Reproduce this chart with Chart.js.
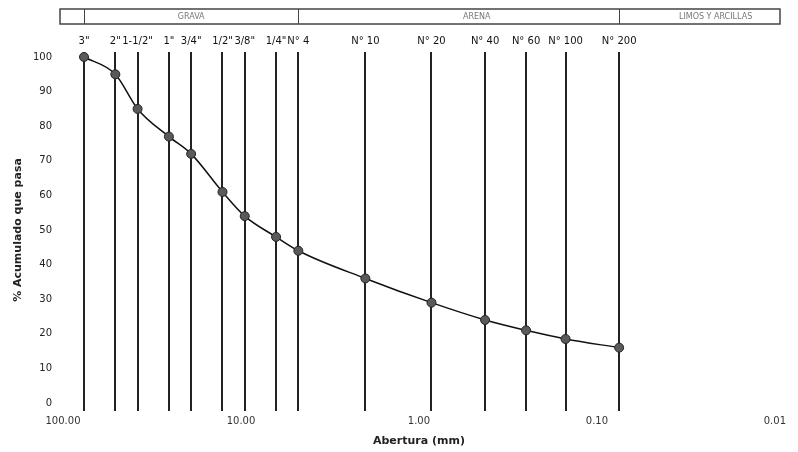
<!DOCTYPE html>
<html>
<head>
<meta charset="utf-8">
<script src="https://cdn.jsdelivr.net/npm/chart.js@4.4.0/dist/chart.umd.min.js"></script>
<style>
  html, body { margin: 0; padding: 0; background: #fff; }
  #wrap { width: 798px; height: 452px; }
</style>
</head>
<body>
<div id="wrap"><canvas id="granulometria"></canvas></div>
<script>
// Tamices (mm) y su designación
const sieveLabels = ['3"', '2"', '1-1/2"', '1"', '3/4"', '1/2"', '3/8"', '1/4"', 'N° 4', 'N° 10', 'N° 20', 'N° 40', 'N° 60', 'N° 100', 'N° 200'];
const sieveSizes = [76.2, 50.8, 38.1, 25.4, 19.05, 12.7, 9.525, 6.35, 4.76, 2.0, 0.85, 0.425, 0.25, 0.15, 0.075];
const percentPassing = [100, 95, 85, 77, 72, 61, 54, 48, 44, 36, 29, 24, 21, 18.5, 16];

const xTickValues = [100, 10, 1, 0.1, 0.01];
const yTickValues = [0, 10, 20, 30, 40, 50, 60, 70, 80, 90, 100];

// Zonas de la banda superior
const zoneNames = ['GRAVA', 'ARENA', 'LIMOS Y ARCILLAS'];
const zoneLimits = [76.2, 4.76, 0.075];

const FONT = 'DejaVu Sans';

const sievePlugin = {
    id: 'sieves',
    beforeDatasetsDraw(chart) {
        const { ctx, chartArea, scales: { x } } = chart;
        ctx.save();
        ctx.strokeStyle = '#222';
        ctx.lineWidth = 2;
        sieveSizes.forEach(s => {
            const px = Math.round(x.getPixelForValue(s));
            ctx.beginPath();
            ctx.moveTo(px, chartArea.top - 5);
            ctx.lineTo(px, chartArea.bottom + 8);
            ctx.stroke();
        });

        // etiquetas de tamices
        ctx.fillStyle = '#111';
        ctx.font = '10px ' + FONT;
        ctx.textAlign = 'center';
        ctx.textBaseline = 'middle';
        sieveLabels.forEach((lab, i) => {
            ctx.fillText(lab, x.getPixelForValue(sieveSizes[i]), 41);
        });

        // banda superior
        const left = 60, right = 780, top = 9, bottom = 24;
        ctx.strokeStyle = '#444';
        ctx.lineWidth = 1.5;
        ctx.strokeRect(left, top, right - left, bottom - top);
        ctx.lineWidth = 1;
        zoneLimits.forEach(s => {
            const px = Math.round(x.getPixelForValue(s)) + 0.5;
            ctx.beginPath();
            ctx.moveTo(px, top);
            ctx.lineTo(px, bottom);
            ctx.stroke();
        });
        ctx.fillStyle = '#777';
        ctx.font = '8px ' + FONT;
        const p0 = x.getPixelForValue(zoneLimits[0]);
        const p1 = x.getPixelForValue(zoneLimits[1]);
        const p2 = x.getPixelForValue(zoneLimits[2]);
        ctx.fillText(zoneNames[0], (p0 + p1) / 2, 16.5);
        ctx.fillText(zoneNames[1], (p1 + p2) / 2 + 18, 16.5);
        ctx.fillText(zoneNames[2], (p2 + right) / 2 + 16, 16.5);
        ctx.restore();
    }
};

new Chart(document.getElementById('granulometria'), {
    type: 'line',
    data: {
        datasets: [{
            data: sieveSizes.map((s, i) => ({ x: s, y: percentPassing[i] })),
            borderColor: '#111',
            borderWidth: 1.5,
            backgroundColor: '#5a5a5a',
            pointBorderColor: '#222',
            pointBorderWidth: 1,
            pointRadius: 4.5,
            cubicInterpolationMode: 'monotone',
            clip: false,
            fill: false
        }]
    },
    options: {
        responsive: true,
        maintainAspectRatio: false,
        animation: false,
        layout: { padding: { top: 57, right: 13, left: 0, bottom: 4 } },
        plugins: {
            legend: { display: false },
            tooltip: { enabled: false }
        },
        scales: {
            x: {
                type: 'logarithmic',
                reverse: true,
                min: 0.01,
                max: 100,
                grid: { display: false, drawTicks: false },
                border: { display: false },
                afterBuildTicks: (scale) => {
                    scale.ticks = xTickValues.map(v => ({ value: v }));
                },
                afterFit: (scale) => { scale.height = 45; },
                ticks: {
                    color: '#333',
                    font: { family: FONT, size: 10 },
                    padding: 12,
                    maxRotation: 0,
                    autoSkip: false,
                    callback: (v) => Number(v).toFixed(2)
                },
                title: {
                    display: true,
                    text: 'Abertura (mm)',
                    color: '#222',
                    font: { family: FONT, size: 11, weight: 'bold' },
                    padding: { top: 4, bottom: 0 }
                }
            },
            y: {
                min: 0,
                max: 100,
                grid: { display: false, drawTicks: false },
                border: { display: false },
                afterBuildTicks: (scale) => {
                    scale.ticks = yTickValues.map(v => ({ value: v }));
                },
                afterFit: (scale) => { scale.width = 63; },
                ticks: {
                    color: '#222',
                    font: { family: FONT, size: 10 },
                    padding: 11
                },
                title: {
                    display: true,
                    text: '% Acumulado que pasa',
                    color: '#222',
                    font: { family: FONT, size: 11, weight: 'bold' },
                    padding: { top: 12, bottom: 4 }
                }
            }
        }
    },
    plugins: [sievePlugin]
});
</script>
</body>
</html>
